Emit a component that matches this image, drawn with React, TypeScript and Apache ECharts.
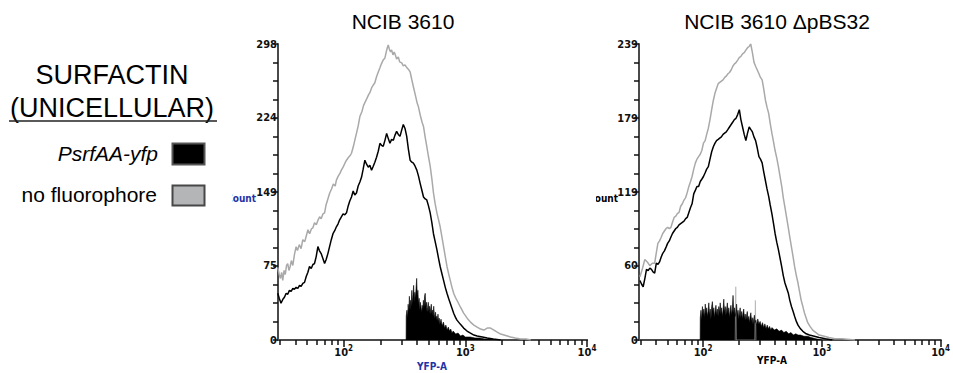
import React, { useEffect, useRef } from "react";
import * as echarts from "echarts";

const FONT = "'Liberation Sans', Arial, Helvetica, sans-serif";
const NARROW = "'Liberation Sans Narrow', 'DejaVu Sans Condensed', 'Liberation Sans', sans-serif";

const panelTitles = ["NCIB 3610", "NCIB 3610 \u0394pBS32"];
const legendTitle = ["SURFACTIN", "(UNICELLULAR)"];
const legendItems = ["PsrfAA-yfp", "no fluorophore"];
const xAxisName = "YFP-A";
const yAxisName = "Count";

// x values are log10(YFP-A)
const xMin = 1.46;
const xMax = 4;
const xMajorExponents = [2, 3, 4];
const xMinorValues = [
  30, 40, 50, 60, 70, 80, 90,
  200, 300, 400, 500, 600, 700, 800, 900,
  2000, 3000, 4000, 5000, 6000, 7000, 8000, 9000,
];
const yTicksLeft = [0, 75, 149, 224, 298];
const yTicksRight = [0, 60, 119, 179, 239];

const leftGray = [
  [1.458, 73], [1.47, 66], [1.48, 62], [1.49, 68], [1.499, 60], [1.51, 70], [1.52, 66], [1.53, 75],
  [1.54, 77], [1.55, 70], [1.56, 74], [1.57, 80], [1.582, 75], [1.595, 86], [1.609, 94], [1.62, 90],
  [1.635, 96], [1.65, 92], [1.664, 101], [1.68, 99], [1.695, 106], [1.706, 111], [1.72, 107],
  [1.735, 112], [1.747, 113], [1.76, 118], [1.775, 116], [1.79, 121], [1.802, 124], [1.815, 122],
  [1.83, 127], [1.843, 128], [1.855, 136], [1.87, 142], [1.885, 148], [1.9, 152], [1.915, 157],
  [1.93, 155], [1.94, 161], [1.955, 165], [1.97, 168], [1.981, 171], [1.995, 174], [2.01, 178],
  [2.023, 181], [2.04, 184], [2.055, 186], [2.064, 188], [2.08, 195], [2.095, 203], [2.105, 208],
  [2.12, 216], [2.133, 225], [2.15, 230], [2.163, 236], [2.174, 239], [2.19, 243], [2.205, 247],
  [2.215, 249], [2.23, 254], [2.245, 257], [2.256, 259], [2.27, 265], [2.285, 270], [2.298, 274],
  [2.31, 278], [2.325, 282], [2.339, 284], [2.35, 290], [2.358, 294], [2.366, 297], [2.375, 293],
  [2.385, 290], [2.394, 292], [2.405, 287], [2.415, 290], [2.422, 288], [2.435, 283], [2.449, 285],
  [2.46, 280], [2.477, 279], [2.49, 276], [2.504, 277], [2.52, 274], [2.535, 272], [2.546, 270],
  [2.56, 262], [2.573, 255], [2.59, 246], [2.605, 238], [2.614, 235], [2.63, 226], [2.645, 219],
  [2.656, 215], [2.67, 204], [2.683, 195], [2.695, 186], [2.711, 175], [2.725, 162], [2.738, 148],
  [2.752, 137], [2.766, 128], [2.78, 121], [2.793, 114], [2.807, 104], [2.821, 94], [2.835, 84],
  [2.849, 74], [2.862, 67], [2.876, 60], [2.89, 53], [2.904, 47], [2.918, 43], [2.931, 40],
  [2.96, 33], [2.986, 27], [3.015, 22], [3.042, 18], [3.07, 15], [3.097, 13], [3.125, 11],
  [3.152, 10], [3.18, 12], [3.207, 12], [3.235, 10], [3.262, 8], [3.29, 6], [3.318, 5], [3.345, 4],
  [3.372, 3], [3.41, 2], [3.455, 1], [3.5, 1], [3.538, 0],
];

const leftBlack = [
  [1.458, 47], [1.47, 42], [1.485, 37], [1.5, 41], [1.513, 43], [1.527, 47], [1.54, 46], [1.554, 50],
  [1.568, 49], [1.582, 52], [1.595, 51], [1.609, 53], [1.623, 52], [1.637, 55], [1.65, 54],
  [1.664, 57], [1.678, 58], [1.692, 64], [1.705, 68], [1.719, 74], [1.733, 72], [1.747, 76],
  [1.76, 77], [1.774, 84], [1.788, 94], [1.8, 90], [1.815, 87], [1.829, 82], [1.843, 77], [1.856, 81],
  [1.87, 87], [1.884, 94], [1.898, 101], [1.912, 107], [1.926, 110], [1.94, 114], [1.954, 117],
  [1.967, 121], [1.981, 124], [1.995, 127], [2.009, 126], [2.023, 128], [2.037, 135], [2.05, 140],
  [2.064, 144], [2.078, 150], [2.091, 146], [2.105, 148], [2.119, 155], [2.133, 159], [2.147, 164],
  [2.16, 172], [2.174, 181], [2.188, 177], [2.202, 174], [2.215, 176], [2.229, 171], [2.243, 175],
  [2.256, 179], [2.27, 184], [2.284, 190], [2.298, 198], [2.311, 196], [2.325, 195], [2.339, 201],
  [2.353, 208], [2.366, 203], [2.38, 198], [2.394, 202], [2.408, 201], [2.421, 206], [2.435, 210],
  [2.449, 207], [2.463, 205], [2.476, 211], [2.49, 217], [2.504, 213], [2.518, 205], [2.532, 192],
  [2.546, 181], [2.56, 179], [2.573, 178], [2.587, 175], [2.601, 171], [2.615, 165], [2.628, 158],
  [2.642, 151], [2.656, 144], [2.67, 142], [2.683, 141], [2.697, 135], [2.711, 128], [2.725, 118],
  [2.738, 107], [2.752, 99], [2.766, 91], [2.78, 82], [2.793, 74], [2.807, 67], [2.821, 60],
  [2.835, 53], [2.849, 47], [2.862, 42], [2.876, 37], [2.89, 32], [2.904, 27], [2.918, 23],
  [2.931, 20], [2.958, 16], [2.986, 12], [3.014, 9], [3.042, 7], [3.07, 5], [3.097, 4], [3.14, 3],
  [3.18, 2], [3.23, 1], [3.29, 0],
];

const leftSpikes = [
  [2.513, 0], [2.514, 24], [2.52, 30], [2.525, 22], [2.53, 36], [2.535, 28], [2.54, 44], [2.545, 30],
  [2.55, 40], [2.555, 34], [2.56, 50], [2.565, 36], [2.57, 46], [2.575, 55], [2.58, 38], [2.585, 48],
  [2.59, 42], [2.595, 52], [2.6, 62], [2.605, 44], [2.61, 50], [2.615, 36], [2.62, 42], [2.625, 30],
  [2.63, 38], [2.635, 33], [2.64, 28], [2.645, 35], [2.65, 30], [2.655, 40], [2.66, 32], [2.665, 44],
  [2.67, 47], [2.675, 34], [2.68, 38], [2.685, 28], [2.69, 33], [2.695, 38], [2.7, 29], [2.705, 34],
  [2.71, 26], [2.715, 32], [2.72, 36], [2.725, 27], [2.73, 30], [2.735, 24], [2.74, 34], [2.745, 26],
  [2.75, 22], [2.755, 28], [2.76, 20], [2.765, 24], [2.77, 19], [2.775, 26], [2.78, 18], [2.785, 22],
  [2.79, 16], [2.8, 21], [2.81, 14], [2.82, 18], [2.83, 12], [2.84, 15], [2.85, 10], [2.86, 13],
  [2.87, 9], [2.88, 11], [2.89, 7], [2.9, 9], [2.92, 6], [2.94, 7], [2.96, 4], [2.98, 5], [3.0, 3],
  [3.04, 3], [3.08, 2], [3.12, 2], [3.16, 1], [3.2, 1], [3.25, 0],
];

const rightGray = [
  [1.468, 51], [1.49, 58], [1.509, 65], [1.53, 63], [1.551, 60], [1.572, 62], [1.592, 62], [1.605, 70],
  [1.619, 78], [1.633, 80], [1.647, 83], [1.66, 86], [1.674, 88], [1.688, 90], [1.701, 91],
  [1.715, 90], [1.729, 91], [1.742, 95], [1.756, 99], [1.77, 100], [1.783, 102], [1.797, 103],
  [1.811, 108], [1.825, 110], [1.839, 113], [1.853, 115], [1.866, 119], [1.88, 124], [1.894, 128],
  [1.907, 132], [1.921, 138], [1.935, 143], [1.948, 146], [1.962, 148], [1.976, 150], [1.989, 153],
  [2.003, 159], [2.017, 161], [2.03, 166], [2.044, 171], [2.058, 178], [2.072, 186], [2.085, 193],
  [2.099, 199], [2.113, 203], [2.127, 207], [2.14, 208], [2.154, 209], [2.168, 210], [2.182, 212],
  [2.195, 213], [2.209, 215], [2.222, 216], [2.236, 218], [2.25, 221], [2.264, 223], [2.277, 224],
  [2.291, 226], [2.304, 228], [2.318, 229], [2.332, 231], [2.346, 232], [2.36, 234], [2.374, 236],
  [2.388, 237], [2.401, 239], [2.415, 232], [2.429, 224], [2.442, 221], [2.456, 218], [2.47, 215],
  [2.483, 212], [2.497, 210], [2.51, 203], [2.524, 194], [2.538, 188], [2.552, 183], [2.565, 175],
  [2.579, 167], [2.593, 160], [2.606, 153], [2.62, 147], [2.634, 140], [2.648, 132], [2.662, 124],
  [2.675, 115], [2.689, 107], [2.703, 99], [2.717, 91], [2.73, 83], [2.744, 75], [2.758, 67],
  [2.771, 59], [2.785, 52], [2.799, 46], [2.812, 39], [2.826, 32], [2.84, 27], [2.853, 22],
  [2.867, 18], [2.881, 14], [2.9, 11], [2.923, 8], [2.95, 6], [2.977, 4], [3.02, 3], [3.059, 2],
  [3.11, 1], [3.169, 1], [3.279, 0],
];

const rightBlack = [
  [1.468, 48], [1.482, 45], [1.495, 43], [1.51, 50], [1.523, 57], [1.537, 56], [1.551, 58], [1.565, 57],
  [1.578, 55], [1.592, 54], [1.606, 62], [1.62, 61], [1.633, 63], [1.647, 67], [1.66, 70], [1.674, 72],
  [1.688, 75], [1.701, 78], [1.715, 80], [1.728, 83], [1.742, 86], [1.756, 88], [1.77, 90], [1.783, 91],
  [1.797, 93], [1.811, 94], [1.825, 95], [1.839, 96], [1.853, 98], [1.866, 99], [1.88, 103],
  [1.894, 107], [1.907, 110], [1.921, 118], [1.935, 121], [1.948, 124], [1.962, 124], [1.976, 128],
  [1.99, 130], [2.003, 132], [2.017, 135], [2.03, 138], [2.044, 140], [2.058, 146], [2.072, 152],
  [2.086, 156], [2.1, 159], [2.113, 161], [2.127, 162], [2.14, 163], [2.154, 164], [2.168, 166],
  [2.181, 167], [2.195, 168], [2.209, 170], [2.222, 172], [2.236, 174], [2.25, 176], [2.263, 178],
  [2.277, 179], [2.291, 182], [2.305, 186], [2.318, 178], [2.332, 172], [2.346, 166], [2.36, 161],
  [2.374, 167], [2.388, 172], [2.401, 170], [2.415, 168], [2.428, 164], [2.442, 161], [2.456, 155],
  [2.47, 148], [2.483, 146], [2.497, 143], [2.51, 136], [2.524, 129], [2.538, 122], [2.552, 116],
  [2.565, 109], [2.579, 102], [2.593, 94], [2.606, 86], [2.62, 79], [2.634, 73], [2.648, 66],
  [2.662, 59], [2.675, 52], [2.689, 46], [2.703, 42], [2.717, 38], [2.73, 32], [2.744, 27],
  [2.758, 23], [2.771, 19], [2.785, 15], [2.799, 12], [2.82, 9], [2.84, 7], [2.868, 5], [2.895, 4],
  [2.936, 3], [2.977, 2], [3.03, 1], [3.087, 0],
];

const rightGraySpikes = [
  [2.27, 0], [2.275, 43], [2.28, 0], [2.435, 0], [2.44, 32], [2.445, 0],
];

const rightSpikes = [
  [1.975, 0], [1.976, 18], [1.982, 24], [1.988, 16], [1.994, 27], [2.0, 20], [2.006, 25], [2.012, 18],
  [2.018, 29], [2.024, 21], [2.03, 26], [2.036, 19], [2.042, 23], [2.048, 30], [2.054, 20], [2.06, 25],
  [2.066, 17], [2.072, 27], [2.078, 31], [2.084, 22], [2.09, 26], [2.096, 18], [2.102, 24], [2.108, 28],
  [2.114, 20], [2.12, 25], [2.126, 19], [2.132, 27], [2.138, 22], [2.144, 30], [2.15, 21], [2.156, 26],
  [2.162, 19], [2.168, 24], [2.174, 33], [2.18, 22], [2.186, 27], [2.192, 20], [2.198, 25], [2.204, 30],
  [2.21, 21], [2.216, 26], [2.222, 18], [2.228, 24], [2.234, 28], [2.24, 20], [2.246, 25], [2.252, 36],
  [2.258, 22], [2.264, 26], [2.27, 19], [2.276, 23], [2.282, 29], [2.288, 20], [2.294, 24], [2.3, 17],
  [2.306, 22], [2.312, 26], [2.318, 18], [2.324, 23], [2.33, 17], [2.336, 22], [2.342, 25], [2.348, 17],
  [2.354, 21], [2.36, 16], [2.366, 20], [2.372, 23], [2.378, 16], [2.384, 19], [2.39, 14], [2.396, 19],
  [2.402, 22], [2.408, 15], [2.414, 18], [2.42, 13], [2.426, 17], [2.432, 20], [2.438, 14], [2.444, 16],
  [2.45, 12], [2.46, 17], [2.47, 13], [2.48, 15], [2.49, 11], [2.5, 14], [2.51, 10], [2.52, 13],
  [2.53, 9], [2.54, 12], [2.55, 9], [2.56, 11], [2.57, 8], [2.58, 10], [2.6, 8], [2.62, 9], [2.64, 7],
  [2.66, 8], [2.68, 6], [2.7, 7], [2.72, 5], [2.74, 6], [2.76, 4], [2.78, 5], [2.8, 4], [2.82, 4],
  [2.85, 3], [2.88, 3], [2.91, 2], [2.95, 1], [3.0, 0],
];

const GRAY = "#a9a9a9";
const AXIS = "#4a4a4a";
const TICK = "#111";
const LABEL = "#111";
const BLUE = "#1f33a6";

function xAxes(gridIndex: number) {
  const common = {
    type: "value",
    gridIndex,
    position: "bottom",
    min: xMin,
    max: xMax,
    splitLine: { show: false },
    axisLine: { show: true, onZero: false, lineStyle: { color: AXIS, width: 2 } },
  };
  return [
    {
      ...common,
      axisTick: { show: true, customValues: xMajorExponents, length: 7, lineStyle: { color: TICK, width: 1.5 } },
      axisLabel: {
        show: true,
        customValues: xMajorExponents,
        margin: 4,
        formatter: (v: number) => `{b|10}{s|${v}}`,
        rich: {
          b: { fontSize: 11, fontFamily: NARROW, fontWeight: "bold", color: LABEL, lineHeight: 17 },
          s: { fontSize: 8, fontFamily: NARROW, fontWeight: "bold", color: LABEL, lineHeight: 9, verticalAlign: "top" },
        },
      },
    },
    {
      ...common,
      axisTick: {
        show: true,
        customValues: xMinorValues.map((v) => Math.log10(v)),
        length: 5,
        lineStyle: { color: TICK, width: 1.5 },
      },
      axisLabel: { show: false },
    },
  ];
}

function yAxis(gridIndex: number, ticks: number[]) {
  const max = ticks[ticks.length - 1];
  const minor: number[] = [];
  for (let i = 0; i <= 16; i++) minor.push((max * i) / 16);
  return {
    type: "value",
    gridIndex,
    min: 0,
    max,
    splitLine: { show: false },
    axisLine: { show: true, onZero: false, lineStyle: { color: AXIS, width: 2 } },
    axisTick: { show: true, customValues: minor, length: 5, lineStyle: { color: TICK, width: 1.5 } },
    axisLabel: {
      show: true,
      customValues: ticks,
      margin: 1,
      fontSize: 11,
      fontFamily: NARROW,
      fontWeight: "bold",
      color: LABEL,
      formatter: (v: number) => String(v),
    },
  };
}

function lineSeries(data: number[][], color: string, xi: number, yi: number) {
  return {
    type: "line",
    xAxisIndex: xi,
    yAxisIndex: yi,
    data,
    symbol: "none",
    silent: true,
    lineStyle: { color, width: 1.5 },
  };
}

function areaSeries(data: number[][], color: string, xi: number, yi: number) {
  return {
    type: "line",
    xAxisIndex: xi,
    yAxisIndex: yi,
    data,
    symbol: "none",
    silent: true,
    lineStyle: { color, width: 0.6 },
    areaStyle: { color, opacity: 1 },
  };
}

export default function App() {
  const ref = useRef<HTMLDivElement>(null);
  useEffect(() => {
    document.body.style.margin = "0";
    if (!ref.current) return;
    const chart = echarts.init(ref.current, null, { renderer: "svg" });
    const option = {
      animation: false,
      backgroundColor: "#ffffff",
      grid: [
        { left: 278, top: 44, width: 309, height: 296 },
        { left: 639, top: 44, width: 309, height: 296 },
      ],
      xAxis: [...xAxes(0), ...xAxes(1)],
      yAxis: [yAxis(0, yTicksLeft), yAxis(1, yTicksRight)],
      series: [
        areaSeries(leftSpikes, "#000", 0, 0),
        lineSeries(leftGray, GRAY, 0, 0),
        lineSeries(leftBlack, "#000", 0, 0),
        areaSeries(rightGraySpikes, GRAY, 2, 1),
        areaSeries(rightSpikes, "#000", 2, 1),
        lineSeries(rightGray, GRAY, 2, 1),
        lineSeries(rightBlack, "#000", 2, 1),
      ],
      graphic: [
        { type: "text", style: { text: panelTitles[0], x: 403, y: 21, textAlign: "center", textVerticalAlign: "middle", font: `21px ${FONT}`, fill: "#000" } },
        { type: "text", style: { text: panelTitles[1], x: 777, y: 21, textAlign: "center", textVerticalAlign: "middle", font: `21px ${FONT}`, fill: "#000" } },
        { type: "text", style: { text: legendTitle[0], x: 112, y: 75, textAlign: "center", textVerticalAlign: "middle", font: `27px ${FONT}`, fill: "#000" } },
        { type: "text", style: { text: legendTitle[1], x: 112, y: 108, textAlign: "center", textVerticalAlign: "middle", font: `27px ${FONT}`, fill: "#000" } },
        { type: "line", shape: { x1: 9, y1: 121, x2: 217, y2: 121 }, style: { stroke: "#222", lineWidth: 1.5 } },
        { type: "text", style: { text: legendItems[0], x: 158, y: 153, textAlign: "right", textVerticalAlign: "middle", font: `italic 21px ${FONT}`, fill: "#000" } },
        { type: "text", style: { text: legendItems[1], x: 157, y: 194, textAlign: "right", textVerticalAlign: "middle", font: `21px ${FONT}`, fill: "#000" } },
        { type: "rect", shape: { x: 172.5, y: 143.5, width: 32, height: 21 }, style: { fill: "#000", stroke: "#555", lineWidth: 2 } },
        { type: "rect", shape: { x: 172.5, y: 185.5, width: 32, height: 20 }, style: { fill: "#b3b5b7", stroke: "#474747", lineWidth: 2 } },
        { type: "text", style: { text: yAxisName, x: 256, y: 198, textAlign: "right", textVerticalAlign: "middle", font: `bold 10px ${NARROW}`, fill: BLUE } },
        { type: "rect", shape: { x: 218, y: 190, width: 14, height: 15 }, style: { fill: "#fff" } },
        { type: "text", style: { text: yAxisName, x: 618, y: 198, textAlign: "right", textVerticalAlign: "middle", font: `bold 10px ${NARROW}`, fill: "#000" } },
        { type: "rect", shape: { x: 582, y: 190, width: 14, height: 15 }, style: { fill: "#fff" } },
        { type: "text", style: { text: xAxisName, x: 432, y: 366, textAlign: "center", textVerticalAlign: "middle", font: `bold 10px ${NARROW}`, fill: BLUE } },
        { type: "text", style: { text: xAxisName, x: 772, y: 360, textAlign: "center", textVerticalAlign: "middle", font: `bold 10px ${NARROW}`, fill: "#000" } },
      ],
    };
    chart.setOption(option as any);
    return () => chart.dispose();
  }, []);
  return (
    <div
      ref={ref}
      style={{ position: "absolute", left: 0, top: 0, width: 953, height: 373, background: "#fff" }}
    />
  );
}
